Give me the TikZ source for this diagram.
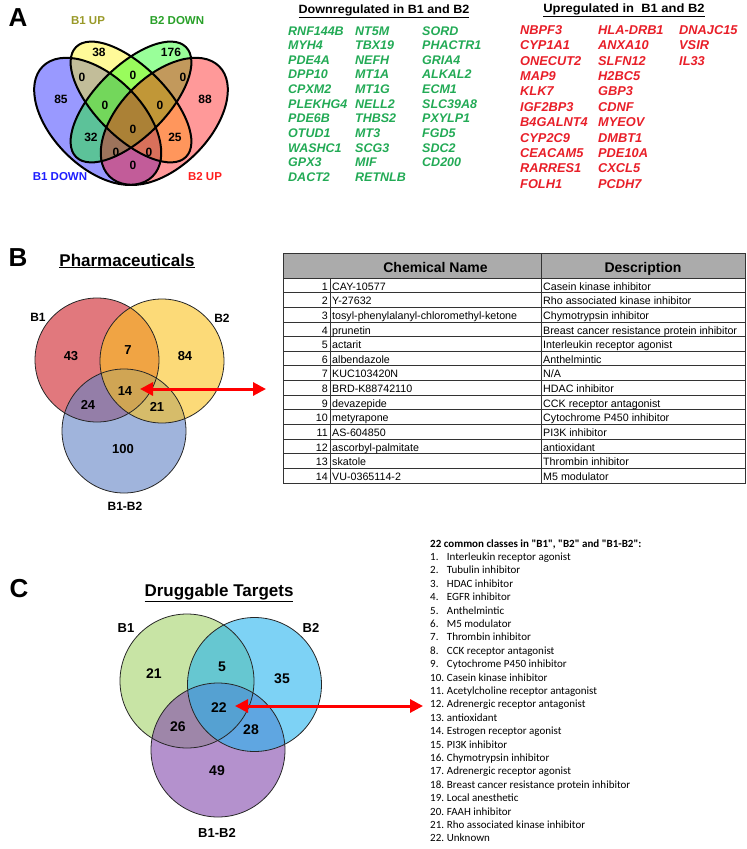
\documentclass[tikz,border=0pt]{standalone}
\usepackage{fontspec}
\usepackage{graphicx}
\setmainfont{Liberation Sans}
\newfontfamily\calib{Carlito}
\usetikzlibrary{arrows.meta}
\definecolor{dngreen}{RGB}{34,170,85}
\definecolor{upred}{RGB}{232,30,40}
\definecolor{labup}{RGB}{153,153,40}
\definecolor{labdown}{RGB}{40,160,40}
\definecolor{labblue}{RGB}{30,30,255}
\definecolor{labred}{RGB}{255,30,30}
\definecolor{bred}{RGB}{205,30,38}
\definecolor{bblue}{RGB}{97,130,197}
\definecolor{byellow}{RGB}{250,193,30}
\definecolor{cgreen}{RGB}{163,210,105}
\definecolor{cpurple}{RGB}{130,72,172}
\definecolor{cblue}{RGB}{38,180,238}
\begin{document}
\begin{tikzpicture}[x=1pt,y=-1pt,every node/.style={inner sep=0pt},
  panel/.style={font=\fontsize{26}{26}\selectfont\bfseries},
  setname/.style={font=\fontsize{11.5}{11.5}\selectfont\bfseries},
  vnum/.style={font=\fontsize{12}{12}\selectfont\bfseries},
  listhead/.style={anchor=base,font=\fontsize{12}{12}\selectfont\bfseries},
  dngene/.style={anchor=base west,text=dngreen,font=\fontsize{12.5}{12.5}\selectfont\bfseries\itshape},
  upgene/.style={anchor=base west,text=upred,font=\fontsize{12.8}{12.8}\selectfont\bfseries\itshape},
  title/.style={anchor=base,font=\fontsize{17}{17}\selectfont\bfseries},
  setlab/.style={font=\fontsize{12}{12}\selectfont\bfseries},
  cnum/.style={font=\fontsize{13}{13}\selectfont\bfseries},
  rim/.style={draw=black!85,line width=.8pt},
  tabline/.style={draw=black!80,line width=.8pt},
  hdr/.style={anchor=base,font=\fontsize{14}{14}\selectfont\bfseries},
  cell/.style={anchor=base west,font=\fontsize{10.7}{10.7}\selectfont},
  cellnum/.style={anchor=base east,font=\fontsize{10.7}{10.7}\selectfont},
  item/.style={anchor=base west,font=\calib\fontsize{11}{11}\selectfont},
  twoway/.style={red,line width=3pt,{Triangle[length=13pt,width=13pt]}-{Triangle[length=13pt,width=13pt]}}]
\useasboundingbox (0,0) rectangle (747,849);

% panel A
\node[panel] (pa) at (18,18) {A};
\begin{scope}[shift={(131,114.9)},x=222pt,y=215pt]
\foreach \col/\cx/\cy/\rot/\b in {blue/-.15/-.03/135/.21,yellow/0/.06/135/.165,green/0/.06/45/.165,red/.15/-.03/45/.21}
  \fill[\col,fill opacity=.4,rotate around={\rot:(\cx,\cy)}] (\cx,\cy) ellipse [x radius=.35,y radius=\b];
\foreach \cx/\cy/\rot/\b in {-.15/-.03/135/.21,0/.06/135/.165,0/.06/45/.165,.15/-.03/45/.21}
  \draw[line width=2pt,rotate around={\rot:(\cx,\cy)}] (\cx,\cy) ellipse [x radius=.35,y radius=\b];
\end{scope}
\node[setname,text=labup] (s1up) at (88,21) {B1 UP};
\node[setname,text=labdown] (s2dn) at (177,21) {B2 DOWN};
\node[setname,text=labblue] (s1dn) at (60,177) {B1 DOWN};
\node[setname,text=labred] (s2up) at (205,177) {B2 UP};
\foreach \x/\y/\t [count=\i] in {99/52/38,171/52/176,82/77/0,133/75/0,183/77/0,61/99/85,105/105/0,160/105/0,
  205/99/88,91/137/32,133/129/0,175/137/25,116/152/0,149/152/0,133/165/0}
  \node[vnum] (a\i) at (\x,\y) {\t};

\node[listhead] (dnhead) at (384,13) {\scalebox{1.05}[1]{\underline{Downregulated in B1 and B2}}};
\foreach \g [count=\i] in {RNF144B,MYH4,PDE4A,DPP10,CPXM2,PLEKHG4,PDE6B,OTUD1,WASHC1,GPX3,DACT2}
  \node[dngene] (dnA\i) at (288,{35+14.65*(\i-1)}) {\g};
\foreach \g [count=\i] in {NT5M,TBX19,NEFH,MT1A,MT1G,NELL2,THBS2,MT3,SCG3,MIF,RETNLB}
  \node[dngene] (dnB\i) at (355,{35+14.65*(\i-1)}) {\g};
\foreach \g [count=\i] in {SORD,PHACTR1,GRIA4,ALKAL2,ECM1,SLC39A8,PXYLP1,FGD5,SDC2,CD200}
  \node[dngene] (dnC\i) at (422,{35+14.65*(\i-1)}) {\g};

\node[listhead] (uphead) at (624,12) {\scalebox{1.08}[1]{\underline{Upregulated in\ \ B1 and B2}}};
\foreach \g [count=\i] in {NBPF3,CYP1A1,ONECUT2,MAP9,KLK7,IGF2BP3,B4GALNT4,CYP2C9,CEACAM5,RARRES1,FOLH1}
  \node[upgene] (upA\i) at (520,{34.3+15.4*(\i-1)}) {\g};
\foreach \g [count=\i] in {HLA-DRB1,ANXA10,SLFN12,H2BC5,GBP3,CDNF,MYEOV,DMBT1,PDE10A,CXCL5,PCDH7}
  \node[upgene] (upB\i) at (598,{34.3+15.4*(\i-1)}) {\g};
\foreach \g [count=\i] in {DNAJC15,VSIR,IL33}
  \node[upgene] (upC\i) at (679,{34.3+15.4*(\i-1)}) {\g};

% panel B
\node[panel] (pb) at (18,258) {B};
\node[title] (phtitle) at (127,266) {\underline{Pharmaceuticals}};
\foreach \col/\cx/\cy in {bred/97/360,bblue/124/431,byellow/162/361}
  \fill[\col,fill opacity=.6] (\cx,\cy) circle[radius=62pt];
\foreach \cx/\cy in {97/360,124/431,162/361}
  \draw[rim] (\cx,\cy) circle[radius=62pt];
\node[setlab] (bB1) at (38,317) {B1};
\node[setlab] (bB2) at (222,318) {B2};
\node[setlab] (bB12) at (125,506) {B1-B2};
\foreach \x/\y/\t in {71/356/43,128/350/7,185/356/84,125/391/14,88/405/24,157/407/21,123/449/100}
  \node[cnum] (b\t) at (\x,\y) {\t};
\coordinate (bArrL) at (140,389);
\coordinate (bArrR) at (266,389);
\draw[twoway] (bArrL) -- (bArrR);

\fill[black!33] (283,253) rectangle (745,278);
\foreach \k in {1,...,13}
  \draw[tabline] (283,{278+14.64*\k}) -- (745,{278+14.64*\k});
\draw[tabline] (283,278) -- (745,278);
\draw[tabline] (330,278) -- (330,483);
\draw[tabline] (541,253) -- (541,483);
\draw[tabline] (283,253) rectangle (745,483);
\node[hdr] (hname) at (435.5,272) {Chemical Name};
\node[hdr] (hdesc) at (643,272) {Description};
\foreach \n/\c/\d in {1/CAY-10577/Casein kinase inhibitor,2/Y-27632/Rho associated kinase inhibitor,
  3/tosyl-phenylalanyl-chloromethyl-ketone/Chymotrypsin inhibitor,4/prunetin/Breast cancer resistance protein inhibitor,
  5/actarit/Interleukin receptor agonist,6/albendazole/Anthelmintic,7/KUC103420N/{N/A},
  8/BRD-K88742110/HDAC inhibitor,9/devazepide/CCK receptor antagonist,10/metyrapone/Cytochrome P450 inhibitor,
  11/AS-604850/PI3K inhibitor,12/ascorbyl-palmitate/antioxidant,13/skatole/Thrombin inhibitor,14/VU-0365114-2/M5 modulator} {
  \node[cellnum] (num\n) at (328,{275.5+14.64*\n}) {\n};
  \node[cell] (chem\n) at (332,{275.5+14.64*\n}) {\c};
  \node[cell] (desc\n) at (543,{275.5+14.64*\n}) {\d};
}

% panel C
\node[panel] (pc) at (19,589) {C};
\node[title] (dttitle) at (219,596) {\underline{Druggable Targets}};
\foreach \col/\cx/\cy in {cgreen/187/681,cpurple/218/750,cblue/254.5/684.5}
  \fill[\col,fill opacity=.6] (\cx,\cy) circle[radius=67pt];
\foreach \cx/\cy in {187/681,218/750,254.5/684.5}
  \draw[rim] (\cx,\cy) circle[radius=67pt];
\node[setlab,font=\fontsize{13}{13}\selectfont\bfseries] (cB1) at (126,628) {B1};
\node[setlab,font=\fontsize{13}{13}\selectfont\bfseries] (cB2) at (311,628) {B2};
\node[setlab,font=\fontsize{13}{13}\selectfont\bfseries] (cB12) at (217,833) {B1-B2};
\foreach \x/\y/\t in {154/674/21,222/667/5,282/679/35,219/708/22,178/727/26,251/730/28,217/771/49}
  \node[cnum,font=\fontsize{14}{14}\selectfont\bfseries] (c\t) at (\x,\y) {\t};
\coordinate (cArrL) at (235,706);
\coordinate (cArrR) at (423,706);
\draw[twoway] (cArrL) -- (cArrR);

\node[item,font=\calib\fontsize{11}{11}\selectfont\bfseries] (clhead) at (430,547.5) {22 common classes in "B1", "B2" and "B1-B2":};
\foreach \t [count=\i] in {Interleukin receptor agonist,Tubulin inhibitor,HDAC inhibitor,EGFR inhibitor,Anthelmintic,
  M5 modulator,Thrombin inhibitor,CCK receptor antagonist,Cytochrome P450 inhibitor,Casein kinase inhibitor,
  Acetylcholine receptor antagonist,Adrenergic receptor antagonist,antioxidant,Estrogen receptor agonist,PI3K inhibitor,
  Chymotrypsin inhibitor,Adrenergic receptor agonist,Breast cancer resistance protein inhibitor,Local anesthetic,
  FAAH inhibitor,Rho associated kinase inhibitor,Unknown} {
  \node[item] (cn\i) at (430,{560.5+13.4*(\i-1)}) {\i.};
  \node[item] (ct\i) at (446.7,{560.5+13.4*(\i-1)}) {\t};
}
\end{tikzpicture}
\end{document}
